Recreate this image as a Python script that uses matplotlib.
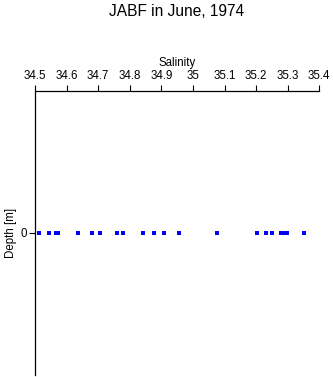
import matplotlib
matplotlib.use("Agg")
import matplotlib.pyplot as plt

plt.rcParams['font.family'] = ['Liberation Sans', 'DejaVu Sans']

salinity = [34.514, 34.545, 34.565, 34.574, 34.635, 34.681, 34.707, 34.760,
            34.779, 34.843, 34.878, 34.909, 34.957, 35.075, 35.203, 35.231,
            35.251, 35.280, 35.290, 35.299, 35.350]
depth = [0] * len(salinity)
xticks = [34.5, 34.6, 34.7, 34.8, 34.9, 35.0, 35.1, 35.2, 35.3, 35.4]
xticklabels = ["34.5", "34.6", "34.7", "34.8", "34.9", "35", "35.1", "35.2", "35.3", "35.4"]

fig = plt.figure(figsize=(3.33, 3.77), dpi=100)
ax = fig.add_axes([35/333, 1-375/377, (319.3-35)/333, (375-90.5)/377])

ax.plot(salinity, depth, linestyle='none', marker='s', markersize=2.3,
        color='#0000ff', markeredgewidth=0, clip_on=False, zorder=3)

ax.set_xlim(34.5, 35.4)
ax.set_ylim(1, -1)
ax.xaxis.set_ticks_position('top')
ax.xaxis.set_label_position('top')
ax.set_xticks(xticks)
ax.set_xticklabels(xticklabels)
ax.set_yticks([0])
ax.set_yticklabels(["0"])
ax.tick_params(axis='x', direction='out', length=4.5, width=0.8, labelsize=8.3, pad=1.5)
ax.tick_params(axis='y', direction='out', length=4, width=0.8, labelsize=8.3, pad=2)
for side in ['right', 'bottom']:
    ax.spines[side].set_visible(False)
for side in ['left', 'top']:
    ax.spines[side].set_linewidth(0.9)

ax.set_xlabel("Salinity", fontsize=8.3, labelpad=3)
ax.set_ylabel("Depth [m]", fontsize=8.3, labelpad=2)
fig.text(177/333, 1-11/377, "JABF in June, 1974", ha='center', va='center', fontsize=11.2)

fig.savefig("out.png", dpi=100)
